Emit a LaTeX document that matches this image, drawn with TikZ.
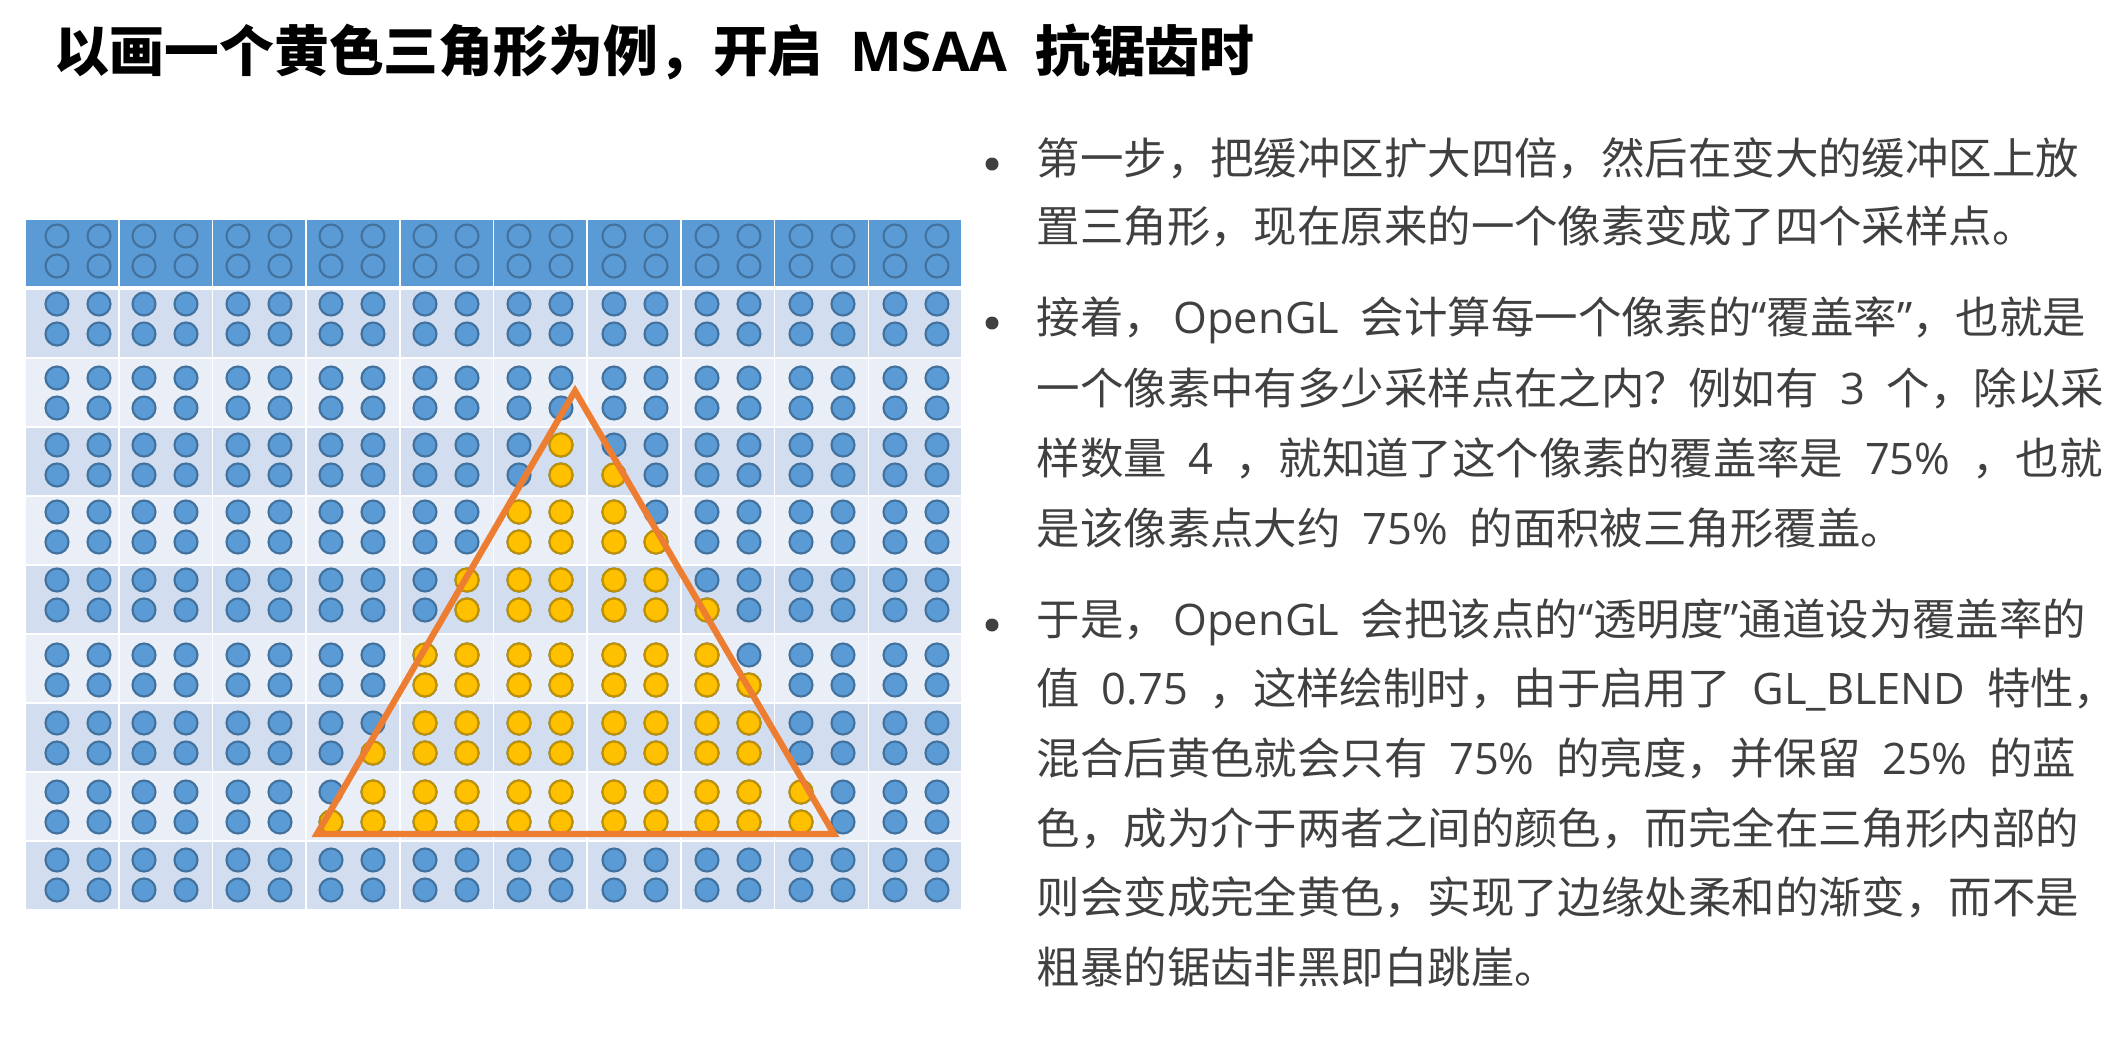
\documentclass[tikz,border=0pt]{standalone}
\usepackage{fontspec}
\setmainfont{Noto Sans CJK SC}
\newfontfamily\latinfont{Open Sans}
\usepackage{xcolor}
\definecolor{headblue}{HTML}{5B9BD5}
\definecolor{rowdark}{HTML}{D2DEEF}
\definecolor{rowlight}{HTML}{EAEFF7}
\definecolor{dotblue}{HTML}{5B9BD5}
\definecolor{dotedge}{HTML}{41719C}
\definecolor{dotyellow}{HTML}{FFC000}
\definecolor{yellowedge}{HTML}{BF9000}
\definecolor{triorange}{HTML}{ED7D31}
\definecolor{txtgray}{HTML}{404040}
\newcommand\en[1]{\hspace{.5em}{\latinfont #1}\hspace{.5em}}
\newcommand\enc[1]{\hspace{.15em}{\latinfont #1}\hspace{.5em}}
\newcommand\qt[1]{{\latinfont “}#1{\latinfont ”}}
\def\dotx{{78,165,259,352,446,540,635,728,822,916}}
\def\doty{{251,319,393,460,527,595,670,738,807,875}}

\begin{document}
\begin{tikzpicture}[x=0.01cm,y=-0.01cm]
  \tikzset{headcell/.style = {fill=headblue}}
  \tikzset{darkcell/.style = {fill=rowdark}}
  \tikzset{lightcell/.style = {fill=rowlight}}
  \tikzset{emptydot/.style = {draw=dotedge, line width=0.6pt}}
  \tikzset{bluedot/.style = {fill=dotblue, draw=dotedge, line width=0.6pt}}
  \tikzset{yellowdot/.style = {fill=dotyellow, draw=yellowedge, line width=0.6pt}}
  \tikzset{edge/.style = {draw=triorange, line width=1.8pt, line join=miter}}
  \tikzset{title/.style = {anchor=base west, inner sep=0pt, font=\fontsize{15.6pt}{18pt}\bfseries}}
  \tikzset{textline/.style = {anchor=base west, inner sep=0pt, text=txtgray, font=\fontsize{12.35pt}{15pt}\selectfont}}
  \tikzset{bullet/.style = {shape=circle, fill=txtgray, inner sep=0pt, minimum size=0.13cm}}

  \useasboundingbox (0,0) rectangle (2109,1036);

  \node[title] (T) at (54,71) {以画一个黄色三角形为例，开启\en{MSAA}抗锯齿时};

  % buffer: header row and 9 pixel rows
  \foreach \k in {0,...,9}{
    \fill[headcell] ({25+93.7*\k+0.8},220) rectangle ({25+93.7*(\k+1)-0.8},286);
    \foreach \i in {1,3,5,7,9}
      \fill[darkcell] ({25+93.7*\k+0.8},{220+69*\i+1.3}) rectangle ({25+93.7*(\k+1)-0.8},{220+69*(\i+1)-1.3});
    \foreach \i in {2,4,6,8}
      \fill[lightcell] ({25+93.7*\k+0.8},{220+69*\i+1.3}) rectangle ({25+93.7*(\k+1)-0.8},{220+69*(\i+1)-1.3});
  }

  \foreach \cx in {78,165,259,352,446,540,635,728,822,916}
    \foreach \dx in {-21,21}{
      \foreach \dy in {-15,15}
        \draw[emptydot] (\cx+\dx,251+\dy) circle (0.115cm);
      \foreach \cy in {319,393,460,527,595,670,738,807,875}
        \foreach \dy in {-15,15}
          \draw[bluedot] (\cx+\dx,\cy+\dy) circle (0.115cm);
    }

  % samples covered by the triangle
  \foreach \r/\a/\b in {6/11/11,7/11/12,8/10/12,9/10/13,10/9/13,11/9/14,12/8/14,13/8/15,14/8/15,15/7/15,16/7/16,17/6/16}
    \foreach \c in {\a,...,\b}{
      \pgfmathsetmacro\px{\dotx[int(\c/2)]+42*mod(\c,2)-21}
      \pgfmathsetmacro\py{\doty[int(\r/2)]+30*mod(\r,2)-15}
      \draw[yellowdot] (\px,\py) circle (0.115cm);
    }

  \coordinate (apex) at (575,391);
  \coordinate (bl) at (317,834);
  \coordinate (br) at (834,834);
  \draw[edge] (apex) -- (br) -- (bl) -- cycle;

  \node[bullet] (b1) at (992,164) {};
  \node[textline] (L11) at (1036,174.5) {第一步，把缓冲区扩大四倍，然后在变大的缓冲区上放};
  \node[textline] (L12) at (1036,242.5) {置三角形，现在原来的一个像素变成了四个采样点。};

  \node[bullet] (b2) at (992,323) {};
  \node[textline] (L21) at (1036,333.5) {接着，\enc{OpenGL}会计算每一个像素的\qt{覆盖率}，也就是};
  \node[textline] (L22) at (1036,404.5) {一个像素中有多少采样点在之内？例如有\en{3}个，除以采};
  \node[textline] (L23) at (1036,474.5) {样数量\en{4}，就知道了这个像素的覆盖率是\en{75\%}，也就};
  \node[textline] (L24) at (1036,544.5) {是该像素点大约\en{75\%}的面积被三角形覆盖。};

  \node[bullet] (b3) at (992,625) {};
  \node[textline] (L31) at (1036,635.5) {于是，\enc{OpenGL}会把该点的\qt{透明度}通道设为覆盖率的};
  \node[textline] (L32) at (1036,704.5) {值\en{0.75}，这样绘制时，由于启用了\en{GL\_BLEND}特性，};
  \node[textline] (L33) at (1036,774.5) {混合后黄色就会只有\en{75\%}的亮度，并保留\en{25\%}的蓝};
  \node[textline] (L34) at (1036,844.5) {色，成为介于两者之间的颜色，而完全在三角形内部的};
  \node[textline] (L35) at (1036,913.5) {则会变成完全黄色，实现了边缘处柔和的渐变，而不是};
  \node[textline] (L36) at (1036,983.5) {粗暴的锯齿非黑即白跳崖。};
\end{tikzpicture}
\end{document}
